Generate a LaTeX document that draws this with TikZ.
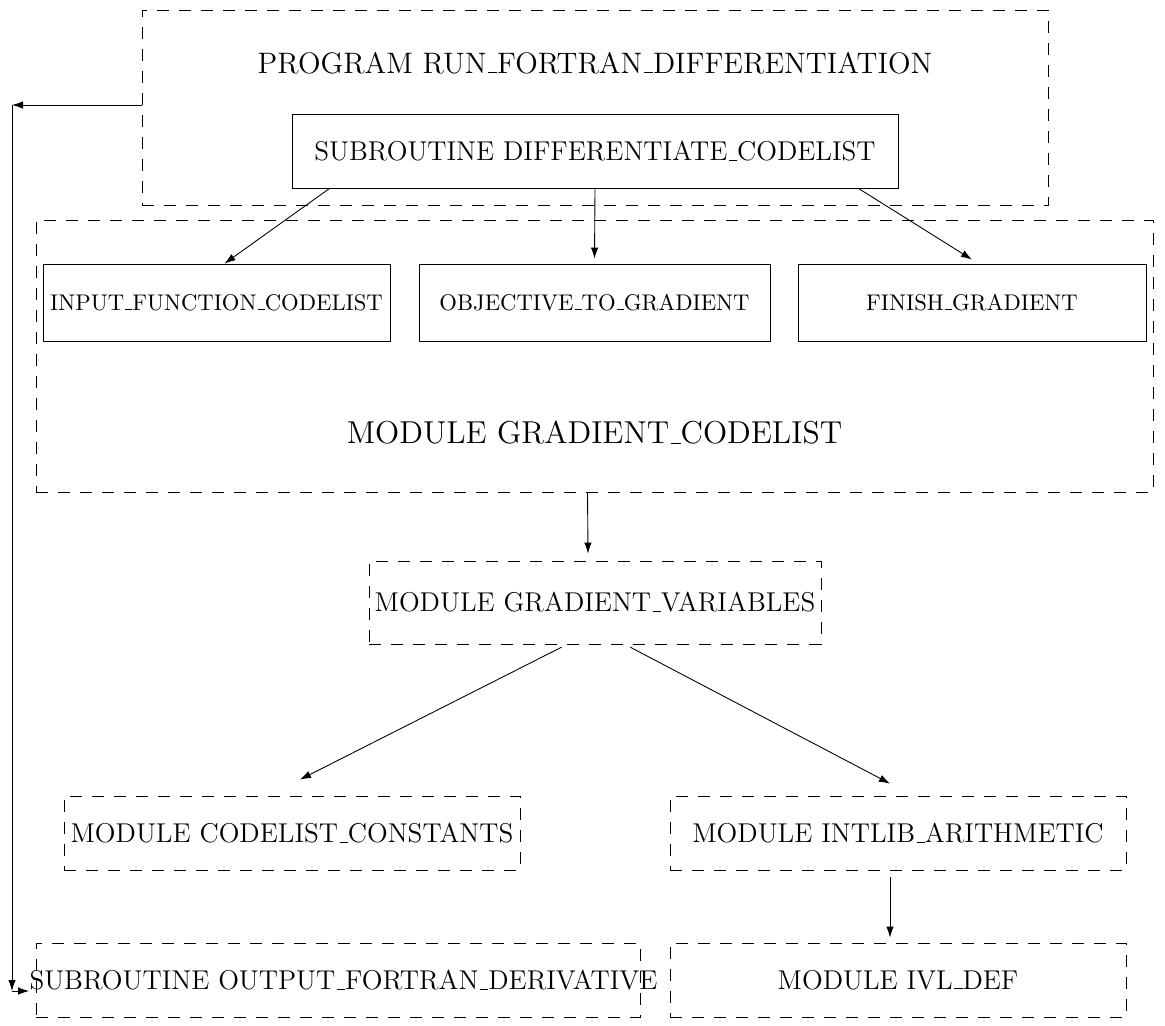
\documentclass[tikz,border=0pt]{standalone}
\usetikzlibrary{arrows.meta,positioning}
\def\pxunit{0.4545pt}
% low rule underscore, as in the old text fonts
\newcommand\usc{\leavevmode\kern.06em\vbox{\hrule width.3em}}

\begin{document}
\begin{tikzpicture}[x=\pxunit, y=-\pxunit,
  dbox/.style={draw, dash pattern=on 5.5pt off 4.5pt, inner sep=0pt},
  sbox/.style={draw, inner sep=0pt, font=\fontsize{10.3pt}{12.5pt}\selectfont},
  wh/.style 2 args={minimum width=#1*\pxunit, minimum height=#2*\pxunit},
  progtxt/.style={font=\fontsize{13.45pt}{16pt}\selectfont, inner sep=0pt},
  bigtxt/.style={font=\Large, inner sep=0pt},
  midtxt/.style={font=\fontsize{12.35pt}{15pt}\selectfont, inner sep=0pt},
  arr/.style={-{Latex[length=5pt,width=3.4pt]}}
]
  \useasboundingbox (0,0) rectangle (1165,1026);

  % program and its subroutine
  \node[dbox, wh={906}{195}] (prog) at (595,107.5) {};
  \node[progtxt] (progtitle) at (595,63) {PROGRAM RUN\usc FORTRAN\usc DIFFERENTIATION};
  \node[sbox, midtxt, wh={606}{74}] (diff) at (595,151) {SUBROUTINE DIFFERENTIATE\usc CODELIST};

  % module gradient_codelist
  \node[dbox, wh={1117}{272}] (gcode) at (594.5,356) {};
  \node[bigtxt] (gcodetxt) at (594.5,433) {MODULE GRADIENT\usc CODELIST};
  \node[sbox, wh={347}{77}] (input) at (216.5,302.5) {INPUT\usc FUNCTION\usc CODELIST};
  \node[sbox, wh={351}{77}] (objective) at (594.5,302.5) {OBJECTIVE\usc TO\usc GRADIENT};
  \node[sbox, wh={348}{77}] (finish) at (972,302.5) {FINISH\usc GRADIENT};

  % lower modules
  \node[dbox, midtxt, wh={452}{83}] (gvar) at (595,602.5) {MODULE GRADIENT\usc VARIABLES};
  \node[dbox, midtxt, wh={456}{74}] (consts) at (292,833) {MODULE CODELIST\usc CONSTANTS};
  \node[dbox, midtxt, wh={456}{74}] (intlib) at (898,833) {MODULE INTLIB\usc ARITHMETIC};
  \node[dbox, wh={604}{74}] (out) at (338,980) {};
  \node[midtxt] (outtxt) at (343.5,980) {SUBROUTINE OUTPUT\usc FORTRAN\usc DERIVATIVE};
  \node[dbox, midtxt, wh={456}{74}] (ivl) at (898,980) {MODULE IVL\usc DEF};

  % connectors
  \draw[arr] ([xshift=38*\pxunit]diff.south west) -- ([xshift=8*\pxunit]input.north);
  \draw[arr] (diff.south) -- ([yshift=5*\pxunit]objective.north);
  \draw[arr] ([xshift=-40*\pxunit]diff.south east) -- ([yshift=4*\pxunit]finish.north);
  \draw[arr] ([xshift=-7*\pxunit]gcode.south) -- ([xshift=-7*\pxunit, yshift=7*\pxunit]gvar.north);
  \draw[arr, shorten <=6*\pxunit] ([xshift=-28*\pxunit]gvar.south) -- ([xshift=8*\pxunit, yshift=16*\pxunit]consts.north);
  \draw[arr, shorten <=6*\pxunit] ([xshift=30*\pxunit]gvar.south) -- ([xshift=-8*\pxunit, yshift=12*\pxunit]intlib.north);
  \draw[arr] ([xshift=-8*\pxunit, yshift=-7*\pxunit]intlib.south) -- ([xshift=-8*\pxunit, yshift=5*\pxunit]ivl.north);

  % link from the program down to the output routine
  \coordinate (bendtop) at (12,105);
  \coordinate (bendlow) at (12,991);
  \draw[arr] (prog.west |- bendtop) -- (bendtop);
  \draw[arr] (bendtop) -- (bendlow);
  \draw[arr] (bendlow) -- (outtxt.west |- bendlow);
\end{tikzpicture}
\end{document}
